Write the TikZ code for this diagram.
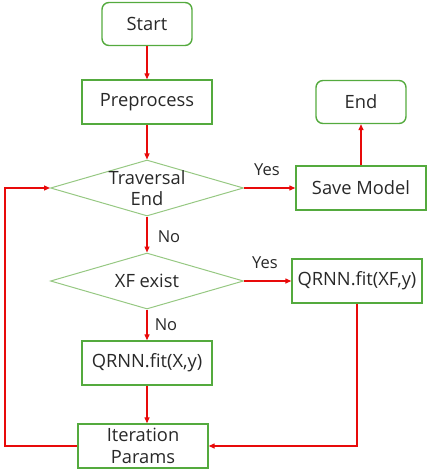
\documentclass[tikz,border=0pt]{standalone}
\usepackage{fontspec}
\setmainfont{Open Sans}
\usetikzlibrary{shapes.geometric,arrows.meta}
\definecolor{boxgreen}{RGB}{84,170,62}
\definecolor{diagreen}{RGB}{150,200,130}
\definecolor{arrred}{RGB}{232,10,10}
\definecolor{txt}{RGB}{40,40,40}
\tikzset{
  base/.style={font=\fontsize{18.3}{21.5}\selectfont, text=txt, align=center, inner sep=0pt},
  termbox/.style={base, draw=boxgreen, line width=1.4pt, rounded corners=7pt, minimum width=90pt, minimum height=43pt},
  procbox/.style={base, draw=boxgreen, line width=1.4pt, minimum width=130pt, minimum height=44pt},
  decbox/.style={diamond, draw=diagreen, line width=1pt, inner sep=0pt, minimum width=193pt, minimum height=56pt,
     label={[base]center:#1}},
  flow/.style={draw=arrred, line width=1.3pt, -{Triangle[length=6pt,width=5pt]}},
  lbl/.style={font=\fontsize{16.5}{19}\selectfont, text=txt, inner sep=0pt}
}
\begin{document}
\begin{tikzpicture}[x=1pt,y=-1pt]
\useasboundingbox (0,0) rectangle (429,470);
\node[termbox] (start) at (147,24) {Start};
\node[procbox] (pre) at (147,102) {Preprocess};
\node[decbox={Traversal\\End}] (trav) at (147,188) {};
\node[procbox] (save) at (361,188) {Save Model};
\node[termbox] (end) at (361,102) {End};
\node[decbox={XF exist}] (xf) at (147,281) {};
\node[procbox] (fitxf) at (357,281) {QRNN.fit(XF,y)};
\node[procbox] (fitx) at (147,363) {QRNN.fit(X,y)};
\node[procbox] (iter) at (143,446) {Iteration\\Params};
\coordinate (lft) at (5,0);
\node[lbl] (yes1) at (267,170) {Yes};
\node[lbl] (no1) at (169,237) {No};
\node[lbl] (yes2) at (265,263) {Yes};
\node[lbl] (no2) at (166,325) {No};
\draw[flow] (start) -- (pre);
\draw[flow] (pre) -- (trav);
\draw[flow] (trav) -- (save);
\draw[flow] (save) -- (end);
\draw[flow] (trav) -- (xf);
\draw[flow] (xf) -- (fitxf);
\draw[flow] (xf) -- (fitx);
\draw[flow] (fitx.south) -- (fitx.south |- iter.north);
\draw[flow] (fitxf.south) |- (iter.east);
\draw[flow] (iter.west) -| (lft |- trav.west) -- (trav.west);
\end{tikzpicture}
\end{document}
